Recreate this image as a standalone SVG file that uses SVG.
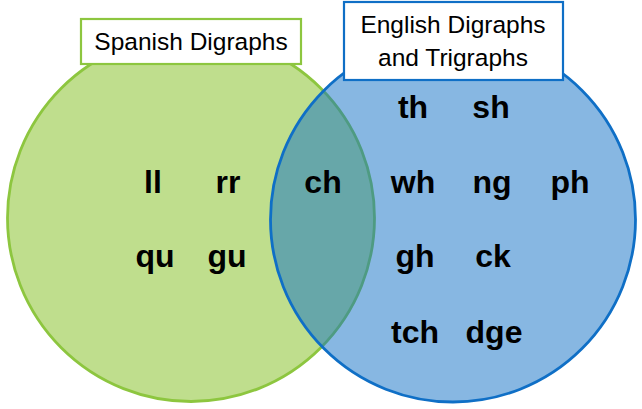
<svg xmlns="http://www.w3.org/2000/svg" width="642" height="409" viewBox="0 0 642 409">
<style>
.lbl{font-family:"Liberation Sans",Arial,sans-serif;font-size:24.5px;fill:#000;text-anchor:middle}
.item{font-family:"Liberation Sans",Arial,sans-serif;font-size:32px;font-weight:bold;fill:#000;text-anchor:middle}
.box{fill:#fff;stroke-width:2.2}
</style>
<rect width="642" height="409" fill="#fff"/>
<g id="spanish">
<circle cx="191" cy="218" r="183.5" fill="#BFDE8D" stroke="#8DC63F" stroke-width="2.8"/>
</g>
<g id="english">
<circle cx="453" cy="219.5" r="182.5" fill="#0F6FC6" fill-opacity="0.5" stroke="#0F6FC6" stroke-width="2.8"/>
</g>
<g id="spanish-label">
<rect class="box" x="81" y="19" width="220" height="45" stroke="#8DC63F"/>
<text class="lbl" x="191" y="50">Spanish Digraphs</text>
</g>
<g id="english-label">
<rect class="box" x="344" y="2" width="219" height="78" stroke="#0F6FC6"/>
<text class="lbl" x="453" y="33">English Digraphs</text>
<text class="lbl" x="453" y="66">and Trigraphs</text>
</g>
<g id="items">
<text class="item" x="153" y="193">ll</text>
<text class="item" x="228" y="193">rr</text>
<text class="item" x="155" y="267">qu</text>
<text class="item" x="227" y="267">gu</text>
<text class="item" x="323" y="193">ch</text>
<text class="item" x="413" y="118">th</text>
<text class="item" x="491" y="118">sh</text>
<text class="item" x="413" y="193">wh</text>
<text class="item" x="492" y="193">ng</text>
<text class="item" x="570" y="193">ph</text>
<text class="item" x="415" y="267">gh</text>
<text class="item" x="493" y="267">ck</text>
<text class="item" x="415" y="343">tch</text>
<text class="item" x="494" y="343">dge</text>
</g>
<g id="connectors"></g>
</svg>
